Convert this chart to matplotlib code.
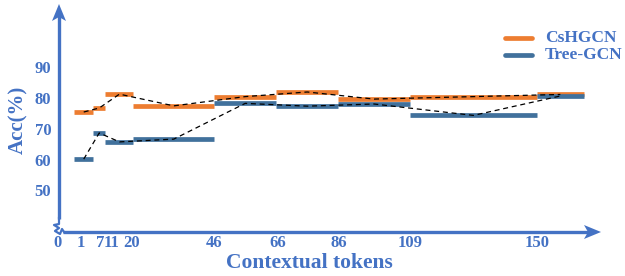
import matplotlib
matplotlib.use("Agg")
import matplotlib.pyplot as plt
from matplotlib.patches import Polygon

# ---------------- data ----------------
bounds = [1, 7, 11, 20, 46, 66, 86, 109, 150, 165]          # context-token intervals
cshgcn = [76.1, 77.4, 81.9, 78.1, 81.1, 82.6, 80.3, 81.1, 81.8]
treegcn = [60.8, 69.3, 66.4, 67.3, 78.9, 78.0, 78.7, 75.0, 81.3]
xtick_labels = ["0", "1", "7", "11", "20", "46", "66", "86", "109", "150"]
ytick_values = [50, 60, 70, 80, 90]
series_names = ["CsHGCN", "Tree-GCN"]

# ---------------- layout ----------------
xtick_pos = [-4.3, 3.1, 9.2, 13.1, 19.5, 46, 66.5, 86, 109, 150]
ORANGE = "#ED7D31"
DBLUE = "#41719C"
ABLUE = "#4472C4"
FONT = "Liberation Serif"

W, H = 625, 276
# pixel -> data mapping (linear)
XA, XB = 71.3, 3.105
def X(px):
    return (px - XA) / XB
def Y(py):
    return 80 - (py - 100) / 3.08

fig = plt.figure(figsize=(W / 100, H / 100), dpi=100)
ax = fig.add_axes([0, 0, 1, 1])
ax.set_xlim(X(0), X(W))
ax.set_ylim(Y(H), Y(0))
ax.axis("off")

# segments
for vals, col in ((cshgcn, ORANGE), (treegcn, DBLUE)):
    for i, v in enumerate(vals):
        ax.plot([bounds[i], bounds[i + 1]], [v, v], color=col, lw=3.4,
                solid_capstyle="butt", zorder=3)
# dashed connectors through segment mid points
for vals in (cshgcn, treegcn):
    mids = [(bounds[i] + bounds[i + 1]) / 2 for i in range(len(vals))]
    ax.plot(mids, vals, color="black", lw=0.9, ls=(0, (4, 3)), zorder=4)

# axes lines
ax.plot([X(59), X(59)], [Y(219), Y(16)], color=ABLUE, lw=2.4, solid_capstyle="butt")
ax.plot([X(63), X(588)], [Y(232), Y(232)], color=ABLUE, lw=2.4, solid_capstyle="butt")
# arrow heads (notched)
ax.add_patch(Polygon([(X(59), Y(4)), (X(52), Y(21)), (X(59), Y(17)), (X(66), Y(21))],
                     closed=True, color=ABLUE, lw=0))
ax.add_patch(Polygon([(X(601), Y(232)), (X(584), Y(225)), (X(588), Y(232)), (X(584), Y(239))],
                     closed=True, color=ABLUE, lw=0))
# axis break zigzag
zx = [59, 59, 54, 59, 55, 60, 62, 64]
zy = [218, 224, 225, 228, 231, 234, 229, 232]
ax.plot([X(p) for p in zx], [Y(p) for p in zy], color=ABLUE, lw=1.6)

# tick labels
for lab, pos in zip(xtick_labels, xtick_pos):
    ax.text(pos, Y(243), lab, ha="center", va="center", fontsize=12,
            fontweight="bold", family=FONT, color=ABLUE)
for v in ytick_values:
    ax.text(X(43), v, str(v), ha="center", va="center", fontsize=12,
            fontweight="bold", family=FONT, color=ABLUE)

# axis titles
ax.text(X(18), Y(120), "Acc(%)", rotation=90, ha="center", va="center",
        fontsize=15, fontweight="bold", family=FONT, color=ABLUE)
ax.text(X(309), Y(263), "Contextual tokens", ha="center", va="center",
        fontsize=15.5, fontweight="bold", family=FONT, color=ABLUE)

# legend
for name, col, py in ((series_names[0], ORANGE, 38), (series_names[1], DBLUE, 55)):
    ax.plot([X(505), X(532)], [Y(py), Y(py)], color=col, lw=3.4, solid_capstyle="round")
    ax.text(X(545), Y(py), name, ha="left", va="center", fontsize=12.5,
            fontweight="bold", family=FONT, color=ABLUE)

fig.savefig("out.png", dpi=100)
